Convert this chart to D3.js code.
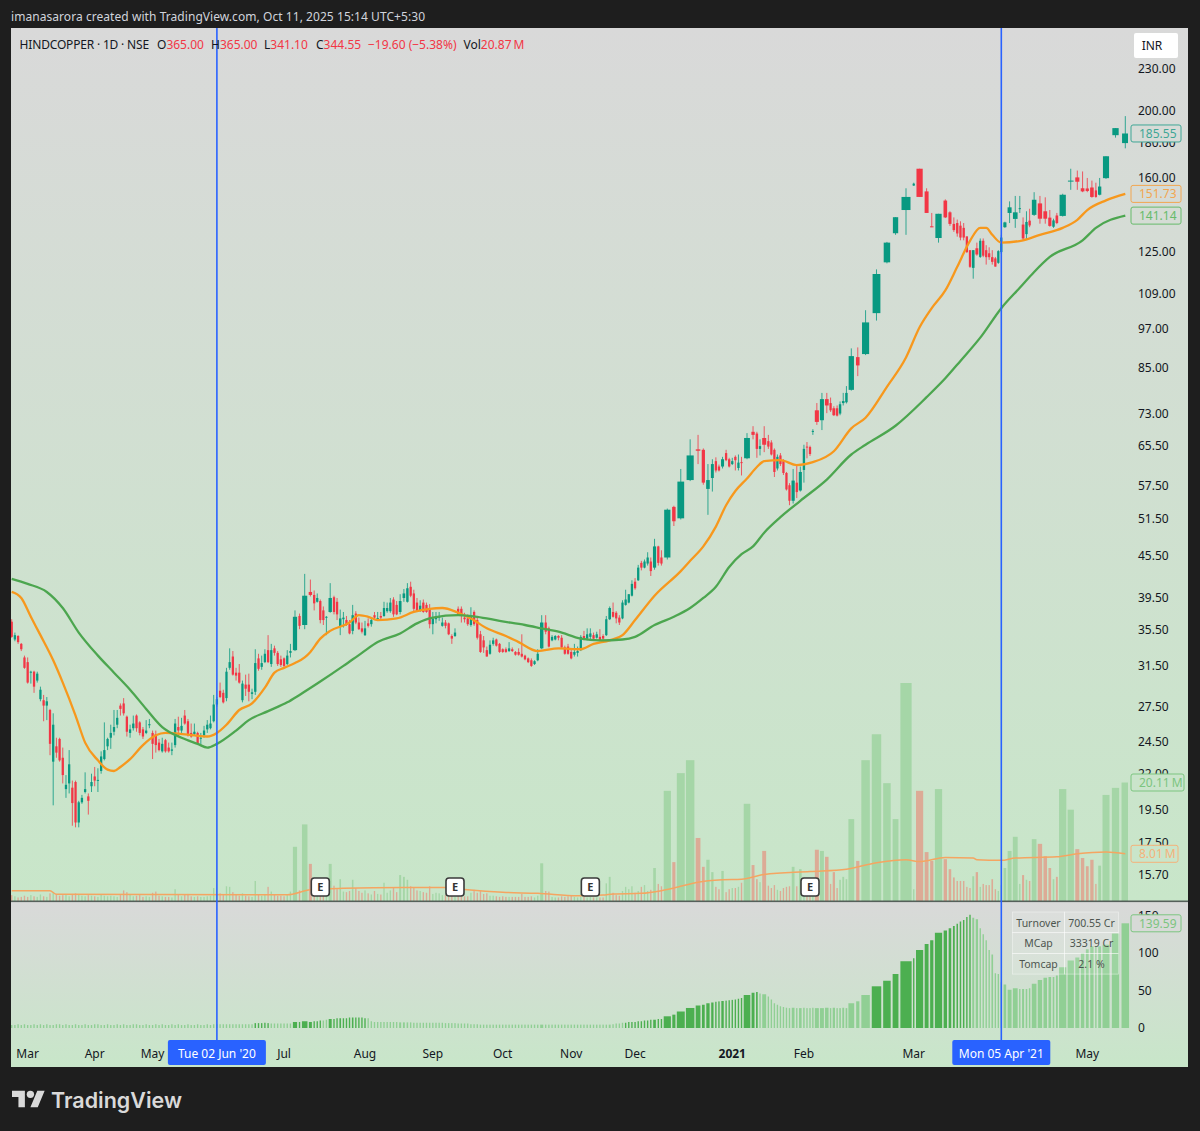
<!DOCTYPE html>
<html><head><meta charset="utf-8">
<script src="https://cdn.jsdelivr.net/npm/d3@7/dist/d3.min.js"></script>
<style>html,body{margin:0;padding:0;background:#1e1e1e}svg{display:block}text{font-family:"Noto Sans",sans-serif}</style>
</head><body><svg id="c" width="1200" height="1131"></svg>
<script>
// Daily candles [open, high, low, close]
const ohlcMarApr2020 = [[36.5,36.8,34.6,34.7],[34.4,35.2,34.2,34.9],[34.8,34.9,33.9,34.1],[33.9,34,33.1,33.3],[32.4,32.6,31.2,31.3],[31.9,32.4,29.7,29.8],[30.8,31,29.7,30.9],[30.9,31,28.8,29.4],[30,30.9,29.8,30.7],[28.2,29.4,28,29.1],
[28.1,28.6,26.2,27.6],[27.6,28.4,26.3,28],[27.2,27.3,23.4,24.3],[22.9,26.9,19.8,25.9],[24.1,24.8,23.2,23.6],[24.7,24.8,22.9,23],[23.2,24,21.3,21.9],[20.9,21.9,20.3,21.2],[21.3,23.8,20.6,22.7],[21,21.5,18.5,19.95],
[21.4,21.5,18.4,18.7],[18.7,20.1,18.4,20],[20,20.5,19.9,20.3],[20.7,22.1,20.6,20.9],[20.4,20.6,19.2,20.1],[21.1,22,20.7,21.4],[21.8,22.5,21.1,21.5],[21.5,22.4,20.7,21.55],[22.2,23.7,22,23.3],[23.1,26.1,23,23.8],
[24.1,24.8,23.8,24.7],[24.8,25.9,23.9,25.2],[25.3,27.2,25,25.7],[25.9,27.2,25.6,26.5],[27.6,27.8,26.7,27.3],[27.8,28.3,26.7,26.9],[26.6,26.7,24.9,25.3],[25.2,25.9,24.8,25.5],[25.6,26.7,25.4,26],[26.7,26.8,25.3,25.6]];
const ohlcMayJul2020 = [[26.1,26.2,25,25.2],[25.5,25.7,24.7,24.9],[25.2,26.3,25.1,25.4],[25.85,26.4,25.6,25.95],[25.2,25.4,23.1,24.3],[25.1,25.4,23.6,24.2],[24.4,24.7,23.7,23.8],[23.7,24.8,23.6,24.3],[24.6,24.7,23.6,23.7],[24,24.4,23.6,23.7],
[23.75,24.4,23.4,23.85],[24.2,26.4,24,26],[25.7,26.6,25,25.4],[25.4,26.5,25.2,25.8],[26.7,27.2,25.9,26],[26.2,26.4,24.9,25],[25.2,26,24.8,24.9],[25.1,26,25,25.3],[25.2,25.3,24.25,24.3],[24.75,25.2,24.2,24.8],
[25,25.8,24.8,25.4],[25.5,26.3,25.2,25.9],[25.6,26.7,25.5,26],[26.2,28.6,26.1,27.7],[27.7,28.4,27.5,28.2],[29,29.8,28.3,28.4],[28.8,29.1,27.8,27.9],[28.3,31.3,28,30.9],[31.3,33.4,31.1,31.9],[32.5,33.1,30.5,30.6],
[30.8,31.3,30,30.5],[30.8,31.7,29.7,29.8],[28.1,30,27.9,29.7],[29.6,30.6,28.5,29.2],[29.6,30.7,28,28.9],[28.7,29.2,28.2,28.85],[28.9,33.3,28.6,31.8],[32.3,32.8,31,31.2],[31.4,32.6,31.1,31.8],[31.9,33.3,31.8,32.8],
[33.2,34.9,31.8,31.9],[31.7,33.9,31.4,33.2],[33.4,33.7,32.6,32.9],[32.9,33.1,31.5,31.7],[32.2,32.6,31.4,31.6],[32.3,32.4,31.3,31.5],[31.7,33.2,31.6,32.6],[32.9,33.9,32.4,33.1],[33.2,37.9,33.1,37.1],[37.2,37.5,35.6,36]];
const ohlcJulSep2020 = [[36.1,42.8,35.6,39.8],[40.3,42,39.7,39.9],[39.9,40.5,37.9,38.8],[39,40.1,38.9,39.5],[39.1,39.3,36.3,36.7],[37.9,38.4,36.1,36.7],[37,37.2,34.9,37.1],[37.7,41.5,37.6,39.5],[39.6,39.8,37.4,37.7],[39,39.5,36.7,37.4],
[35.9,38,34.9,36.9],[36.8,37.7,35.8,37],[36.7,37.2,36,36.1],[36.2,36.7,35,35.1],[35.4,38.6,35,37.3],[37.5,37.8,36.2,36.4],[36.4,37,35.5,35.6],[35.7,36.4,35.1,35.3],[34.9,36.6,34.8,35.7],[36.3,36.9,35.8,36],
[36.2,37,35.9,36.7],[37.3,37.7,36.7,37],[36.9,37.7,36.6,36.95],[37.2,37.7,36.7,37],[37.2,39,37.1,38.2],[37.8,38.9,37.6,38.2],[37.8,39.5,37.6,38.9],[39.3,39.6,37.1,37.4],[38.6,39.1,37.3,37.4],[37.7,40,37.4,39.1],
[39.5,40.7,39,40.1],[39,41.5,38.9,40.8],[41,41.7,39.6,39.8],[40.1,40.6,37.7,38.1],[38.9,39.5,37.7,37.8],[37.9,39.2,37.7,38.5],[38.9,39.3,37.6,37.7],[38.6,38.9,37.6,37.7],[38.2,38.7,35.7,36.2],[36.2,37.7,35,36.9]];
const ohlcSepNov2020 = [[36.8,37.7,36.3,37],[37,37.7,36.6,37.2],[36,37,35.9,36.4],[36.4,36.7,35.7,36],[36.3,36.4,34.9,35],[34.8,35,33.9,34.5],[34.8,35.7,34.7,35.2],[38.1,38.4,37.3,37.4],[38.1,38.4,36.4,37.3],[37,37.6,36.4,36.8],
[36.9,37.4,36,36.2],[36.1,38.3,35.9,37.3],[37.7,37.9,36,36.2],[36.7,37,34.4,34.6],[35,35.4,32.9,33],[34.3,34.8,32.9,33.5],[33.2,33.6,32.5,32.5],[32.8,34.3,32.7,33.8],[33.9,34.6,33.7,34.3],[34.4,34.5,33.6,33.7],
[33.9,34,32.9,33],[33.3,33.4,32.9,33],[33.3,33.5,32.9,33],[33.1,34.1,33,33.4],[33.3,33.5,33,33.1],[33,33.1,32.6,32.7],[33,33.4,32.6,32.7],[32.8,35,32.4,32.5],[32.6,32.7,32.1,32.2],[32.3,32.4,31.8,31.9],
[32.1,32.3,31.4,31.5],[31.7,32.1,31.6,32],[32.1,33.3,32,32.8],[33.4,37.3,33.3,36.4],[36.4,37.3,35,35.3],[35.7,35.9,33.5,33.6],[34.3,34.9,34.2,34.7],[34.4,34.9,34.3,34.8],[34.8,34.9,34.3,34.6],[34.6,34.9,33.4,33.5],
[33.5,33.7,32.7,32.8],[33.6,33.9,32.7,32.8],[33,33.4,32.2,32.3],[32.7,33.9,32.5,33],[32.9,33.6,32.5,33.1],[33.2,34.9,33.1,34.7],[34.8,35.4,34.3,34.4],[34.5,35.7,34.3,35],[34.7,35.7,34.4,35.1],[34.9,35.2,34.3,34.5]];
const ohlcNovJan2021 = [[34.6,35.3,34.5,35],[34.7,35.6,34.2,34.3],[34.8,35,34.4,34.5],[34.9,37.2,34.8,36.8],[36.8,38.4,36.7,38.2],[37.7,38.9,37,37.1],[37.6,37.8,36.3,36.9],[37,37.3,36.1,36.4],[36.9,39.2,36.8,38.9],[38.6,40.6,38.5,39.3],
[38.9,40,38.8,40],[39.8,41.9,39.7,41.4],[41.7,42.2,40.6,40.8],[41.9,44.1,41.8,43.7],[44.4,44.7,43.3,43.7],[43.7,44.9,43.6,44.6],[44.3,46,44,45.2],[44.6,45.2,42.5,43.2],[43.7,48.1,43.4,46.9],[46.9,47,44,44.4],
[45.2,46.3,44,44.3],[45.2,53.2,44.9,53],[53.5,53.7,50.2,51],[51.5,60.7,51.3,58.2],[58.5,67,58.3,63.5],[64.8,68,61.7,64.5],[64.7,65,57.6,58],[56.8,61.7,52.1,58.5],[58.9,62.7,56.3,61.7],[62.3,63.1,60,60.4],
[61.2,61.6,60.2,60.4],[61.2,63.2,60.8,62.7],[64,64.7,62.3,62.5],[62.7,63,61,61.2],[61.7,63,61.5,62.3],[63.2,63.5,60.4,62.5],[60.9,63.7,60.4,62],[62.1,63.2,59.4,62],[62.9,68.4,62.7,67.3],[68.7,70,67,68],
[68.3,68.7,63,64.9],[64.9,67,63.5,65.5],[67.3,70,64.2,65.8],[66.6,68,64.9,65.4],[66.3,66.8,63.5,63.7],[64.7,65,59.1,60.1],[60.8,63.7,60.4,63.2],[63.5,64,61.3,61.7],[62.3,62.7,59.5,59.9],[59.9,60.1,56.5,56.7]];
const ohlcFebMar2021 = [[57.5,57.9,53.8,54.6],[54.6,60.7,54.1,58.4],[58,61.5,55.1,56.2],[56.5,61.2,56.3,60.1],[60.5,65.8,58,64.9],[65.4,66.4,62.9,65.2],[65.3,65.6,63.4,63.8],[68.8,69.3,68,68.9],[73.8,75.6,70.3,71],[71.4,78.2,69.1,76.6],
[76.6,78.2,73.1,75],[75.6,77,73.4,73.8],[74.3,74.8,72.4,72.6],[74.3,75,72.3,72.5],[73,76,72.6,75.3],[75.6,78.2,75,76.1],[75.8,80,75.5,78.2],[79,90.7,78.8,88.4],[88.1,91,82.7,85.7],[89,103,88.7,98.9],
[102,118,99.5,116.2],[120.8,129.3,120.4,129],[133.1,140.4,132.4,140.4],[143.8,154.6,132.4,150.2],[156,157.5,155.8,157],[165,165,150.2,150.2],[153,154.6,142.4,142.4],[136.2,142.4,135.8,136],[131,142,129,142],[148.4,149,140,140.3],
[142.7,143.2,136.4,137.3],[137.3,140.3,133.7,134.5],[137.7,139.3,131.6,133],[136.5,138.5,130,131.2],[135.5,137.7,130,131.2],[131.7,131.7,124.6,125],[125.8,125.8,118.6,119],[118.6,125.8,114.4,125.8],[126.6,129,123.5,124],[123,130.8,122.6,129.8]];
const ohlcMarMay2021 = [[129.8,130.8,122.9,123.5],[125.8,127.9,119.9,122.9],[124.5,127,121.8,122.9],[122.9,125.8,119.9,121],[122.4,123,119.1,119.1],[120.6,125.8,120.2,125.4],[125,132.4,124.2,131.2],[135.8,138.3,135.5,138],[142.4,148,137.7,145.1],[139.6,150.7,135.5,142.7],
[144.4,150.7,142.4,144.7],[137,140.3,129.8,130.8],[132.7,143.2,130.6,138.2],[138.8,144.4,135.8,136.6],[141.5,152.6,141,148.8],[147,150.7,137.4,139.7],[143.2,150,137.4,139.7],[140.2,143.8,136,136.4],[136,139.7,135.5,138.9],[141.2,142.4,137.2,137.7],
[141,151.8,140.7,151.3],[158.3,165,153.8,158.6],[160.3,164,153.8,158],[154.6,163.5,152.6,153],[154.5,160,152.6,153.2],[155,158.6,149.8,150.2],[153.5,157.5,149.8,150.2],[151.3,160,151,155.5],[159.9,172,159.5,172],[184.5,188.9,183,188.9],
[179.7,196.6,176.6,185.55]];

// Volume per bar, millions
const volumes = [1,.8,.6,.7,.9,.7,1,.8,.7,1.1,.8,.7,1.3,1.5,1.2,.9,1,1.1,.8,1.2,1.3,1.2,.9,.8,1,.9,.8,.7,1.1,.9,.8,.9,.8,.7,1,1.8,1.5,1.1,.8,.9,
1,.7,.8,.7,1.4,1.6,.9,.8,.7,.7,.6,2,1,.8,1.1,1.2,.8,.7,.8,.7,.7,.8,.9,2.2,
1,1.3,1,2.5,2.4,1.5,1.1,.9,1.3,.9,.8,.7,3.4,1.1,.9,1.2,2.4,1.6,1.1,.9,.9,.8,1,1.6,
9.2,1.8,13,6.3,1.8,1.3,2.1,1.6,2,6.3,2.6,2,3.7,1.6,1.5,1.7,3.6,2.2,1.7,1.4,1.8,1.3,1.1,1.7,1.2,1.1,3.1,1.4,1.8,2.2,1.5,4.4,4.1,3.6,2.5,2.2,1.8,1.7,1.5,1.4,2.5,1.2,
1.4,1.3,1,1,.9,.9,.7,1.1,.9,.8,.8,1.4,1.9,1.4,1.7,1.2,1.3,.9,.9,.8,.7,.8,.7,.7,.7,.7,.7,1.2,.7,.7,.8,.6,.9,6.4,1.7,1.6,.7,.6,.6,.8,.7,.8,1,.7,.6,1.2,.7,.6,.7,.6,.6,.6,.6,3,4.1,1.4,1,.9,
1.7,2.4,2,2.5,1.4,1.7,2.4,2.7,1.7,1.9,5.6,2.9,2.5,18.7,6.6,21.7,23.9,10.7,5.8,7,4.9,2.4,2,5.1,1.5,2,2.2,2.2,2.4,3.1,16.5,6.1,3.7,3.2,8.5,2.6,2.2,2.7,1.9,1.7,2.2,2.4,2.5,5.8,2.5,5.4,3.4,2,2,2.4,
8.7,8.5,7.5,2.9,4.9,2.2,3.6,4.1,3.7,13.9,6.8,23.9,28.3,20,13.9,37,2,18.7,8.3,6.8,19,7.1,5.4,4,3.4,3.4,3.4,2.4,2.2,4.2,4.9,2.4,2.9,2.7,2.7,3.7,2,1.7,2.7,5.6,8.5,10.9,2.9,4.4,3.6,3.4,10.5,9.7,7.6,5.6,3.7,4.1,19,15.5,8.8,7.3,5.9,7,2.9,6,18,19.2,20.11];

// Lower-pane oscillator per bar, ten values to a row
const oscillator = [
4,4,5,4,5,4,4,5,4,5, 4,5,4,4,5,5,4,5,4,4, 5,4,4,5,4,4,5,5,4,4, 5,4,4,5,4,5,4,4,5,5,
4,4,5,4,4,5,4,5,4,4, 5,4,5,4,4,5,4,4,5,4, 4,5,4,5,5,5,5,5,5,5,
5,5,5,5,5,5,6.5,6.5,6.5,7, 6.5,6,6,6,6,6,6,6,8,8, 9,8,9,9,10,10,11,12,12,13, 13,13,13,14,14,14,14,14,13,13,
9,8,8,8,8,8,8,8,8,7.5, 7.5,7.5,7.5,7,7,7,7,7,7,7, 7,7,7,6.5,6.5,6.5,6.5,6,6,6, 6,5,5,5,4.5,4.5,4.5,4.5,4.5,4.5,
4.5,4.5,4.5,4.5,4.5,4.5,4.5,4.5,4.5,4.5, 4.5,4.5,4.5,4.5,4.5,4.5,4.5,4.5,4.5,4.5, 4.5,4.5,4.5,4.5,4.5,4.5,4.5,4.5,4.5,4.5, 4.5,4.5,4.5,4.5,4.5,5,6,6,7,7,
8,8,8,9,9,10,10,11,11,12, 12,15.6,17.8,22,26.7,30,31,33,34,35, 35.5,36,36.5,37,37.5,38,39,40,44,47, 48,46,45,42,38,33,31,29,28,27,
26.5,27,26.5,26.5,27,26.5,26.5,27,26.5,26.5, 27,26.5,27,26.5,26.5,27,26.5,33,35.6,44, 55.6,63,72,89,93,104,112,117,127,130, 133,136,139,142,144,148,151,147,145,133,
125,117,104,98,73,72,61,58,51,53, 52,52,52,53,59,64,67,68,68,70, 81,90,94,100,105,109,109,109,111,126, 139.59];
const oscStrongRuns = [[77,81],[89,95],[98,109],[190,221],[251,267]];

// Moving averages sampled at 1-based bar numbers
const emaFastBars = [1,4,7,10,14,17,21,24,28,31,33,35,38,42,46,49,53,58,62,65,68,72,76,80,83,86,89,91,92,95,98,104,107,110,113,119,124,129,133,138,142,147,153,157,163,169,176,180,185,189,193,199,204,205,207,210,213,216,219,221,223,228,233,238,243,248,250,252,254,256,258,260,263,267,270,272,274,277,282,286,291,293,295,299,301];
const emaFastVals = [40.3,39.5,37.1,34.9,32.1,29.8,26.7,24.4,23,22.3,22.2,22.5,23.1,24.2,25,25.2,25.15,25,24.9,25.2,25.9,27.2,27.8,29.3,30.8,31.3,31.8,32.4,33,34.5,35.4,36.4,37.3,37.1,36.7,36.9,37.7,38.1,38.2,37.6,36.9,35.7,34.8,34.1,33.1,33.4,33.3,33.9,34.3,34.9,36.7,39.8,43.2,44.7,46.9,50.1,53.8,56.4,58.8,61.1,62.3,62.5,61.5,62.1,64.4,69.5,72,79.8,88,97.3,103.7,110,119,129.8,135.5,135.5,132.4,129,130,132.4,135.5,139.2,143.8,148.5,151.73];
const emaSlowBars = [1,6,12,17,22,28,33,38,43,48,54,59,62,65,71,75,81,87,90,95,102,108,113,120,125,130,138,144,151,159,164,169,176,182,189,193,199,203,205,207,210,214,218,220,223,228,234,241,248,250,253,257,260,264,270,277,281,285,288,294,297,301];
const emaSlowVals = [42.1,41.4,40.3,38.2,35.2,32.6,30.8,29.1,27.3,25.7,24.8,24.3,24,24.3,25.4,26.3,27.1,27.9,28.6,29.9,31.5,32.9,34.1,35.1,36.3,37,37.3,37.1,36.6,36.1,35.7,35.3,34.5,34.3,34.4,34.7,36.1,37.1,38.2,39.5,41,43.8,45.7,46.9,49.1,51.7,54.6,58.6,63.7,65.8,70.1,77.1,82.1,87,94,103.7,111,117,123,130,135.5,141.14];
const volMaBars = [1,13,15,87,92,102,121,134,141,152,163,175,183,186,195,201,203,206,212,218,223,237,247,251,254,256,260,268,269,277,280,290,293,299,301];
const volMaVals = [1.75,1.75,1.13,1.05,1.9,2.15,2.3,2.3,1.9,1.47,1.3,.9,1,1.2,1.3,1.75,2.2,3.2,3.6,3.7,4.5,5,5.4,6.5,7,6.7,7.4,7.3,7,6.9,7.3,7.5,8,8.3,8.01];

// Axes and annotations
const priceTicks = [230,200,180,160,125,109,97,85,73,65.5,57.5,51.5,45.5,39.5,35.5,31.5,27.5,24.5,22,19.5,17.5,15.7];
const oscTicks = [150,100,50,0];
const timeTickBars = [6,27,45,86,109,130,152,173,193,215,235,255,295];
const timeTickLabels = ["Mar","Apr","May","Jul","Aug","Sep","Oct","Nov","Dec","2021","Feb","Mar","May"];
const cursorBars = [65,277];
const cursorLabels = ["Tue 02 Jun '20","Mon 05 Apr '21"];
const earningsBars = [95,137,179,237];
const tableRows = [["Turnover","700.55 Cr"],["MCap","33319 Cr"],["Tomcap","2.1 %"]];

const candles = [].concat(ohlcMarApr2020,ohlcMayJul2020,ohlcJulSep2020,ohlcSepNov2020,ohlcNovJan2021,ohlcFebMar2021,ohlcMarMay2021);
const GREEN="#089981", RED="#f23645";
const L=11,R=1188,PR=1128,T=28,PANE=901,B=1067;
const svg=d3.select("#c");
const defs=svg.append("defs");
function grad(id){const g=defs.append("linearGradient").attr("id",id).attr("x1",0).attr("x2",0).attr("y1",0).attr("y2",1);
 g.append("stop").attr("offset",0).attr("stop-color","#d9d9d9");g.append("stop").attr("offset",1).attr("stop-color","#c8e6c9");}
grad("g1");grad("g2");
defs.append("clipPath").attr("id","clipP").append("rect").attr("x",L).attr("y",T).attr("width",PR-L).attr("height",PANE-T);
svg.append("rect").attr("width",1200).attr("height",1131).attr("fill","#1e1e1e");
svg.append("rect").attr("x",L).attr("y",T).attr("width",R-L).attr("height",PANE-T).attr("fill","url(#g1)");
svg.append("rect").attr("x",L).attr("y",PANE).attr("width",R-L).attr("height",B-PANE).attr("fill","url(#g2)");

const y=d3.scaleLog().domain([15.7,230]).range([875,69]);
const yVol=d3.scaleLinear().domain([0,37]).range([PANE,683]);
const yOsc=d3.scaleLinear().domain([0,150]).range([1028,915.5]);

// volume-weighted time axis: wider slots for heavier bars
const volW=d=>Math.max(1.36,0.95*Math.sqrt(yVol(0)-yVol(d))-2.8);
const slots=volumes.map(v=>volW(v)+2);
let run=0;const cum=slots.map(s=>{const c=run+s/2;run+=s;return c;});
const anchorBars=[1,27,64,91,109,137,164,184,202,219,237,248,254,267,277,291,299,301];
const xCum=d3.scaleLinear().domain(anchorBars.map(b=>cum[b-1])).range([11.7,94.7,213.7,304.7,365,455,541.7,606.3,667.3,747,810,851.3,906,970,1001.3,1062.7,1106,1125.3]);
const xBar=b=>xCum(cum[b-1]);
const bars=candles.map((c,i)=>({o:c[0],h:c[1],l:c[2],c:c[3],v:volumes[i],os:oscillator[i],b:i+1,up:c[3]>=c[0]}));

const plot=svg.append("g").attr("clip-path","url(#clipP)");
// volume
plot.append("g").selectAll("rect").data(bars).join("rect")
 .attr("x",d=>xBar(d.b)-volW(d.v)/2).attr("width",d=>volW(d.v))
 .attr("y",d=>yVol(d.v)).attr("height",d=>yVol(0)-yVol(d.v))
 .attr("fill",d=>d.up?"#a5d6a7":"#dcab96");
const line=(yy)=>d3.line().x(d=>xBar(d[0])).y(d=>yy(d[1])).curve(d3.curveMonotoneX);
plot.append("path").attr("d",line(yVol)(d3.zip(volMaBars,volMaVals))).attr("fill","none").attr("stroke","#f5a561").attr("stroke-width",1.5);

// candles
const cg=plot.append("g");
cg.selectAll("line").data(bars).join("line")
 .attr("x1",d=>xBar(d.b)).attr("x2",d=>xBar(d.b)).attr("y1",d=>y(d.h)).attr("y2",d=>y(d.l))
 .attr("stroke",d=>d.up?GREEN:RED).attr("stroke-width",1).attr("stroke-opacity",.8);
cg.selectAll("rect").data(bars).join("rect")
 .attr("x",d=>xBar(d.b)-slots[d.b-1]*.34).attr("width",d=>slots[d.b-1]*.68)
 .attr("y",d=>y(Math.max(d.o,d.c))).attr("height",d=>Math.max(1,Math.abs(y(d.o)-y(d.c))))
 .attr("fill",d=>d.up?GREEN:RED);
// averages
plot.append("path").attr("d",line(y)(d3.zip(emaFastBars,emaFastVals))).attr("fill","none").attr("stroke","#f7981d").attr("stroke-width",2.3);
plot.append("path").attr("d",line(y)(d3.zip(emaSlowBars,emaSlowVals))).attr("fill","none").attr("stroke","#4ca64f").attr("stroke-width",2.3);

// oscillator
const strong=b=>oscStrongRuns.some(r=>b>=r[0]&&b<=r[1]);
svg.append("g").selectAll("rect").data(bars).join("rect")
 .attr("x",d=>xBar(d.b)-volW(d.v)/2).attr("width",d=>volW(d.v))
 .attr("y",d=>yOsc(d.os)).attr("height",d=>yOsc(0)-yOsc(d.os))
 .attr("fill",d=>strong(d.b)?"#4caf50":"#90cf94");

svg.append("rect").attr("x",L).attr("y",PANE-.5).attr("width",R-L).attr("height",1.6).attr("fill","#55605a");

// Cursor lines
svg.append("g").selectAll("line").data(cursorBars).join("line")
 .attr("x1",b=>xBar(b)).attr("x2",b=>xBar(b)).attr("y1",T).attr("y2",1040).attr("stroke","#2962ff").attr("stroke-width",1.6);

// Price axis
const font="12px";
const ax=svg.append("g").attr("transform",`translate(1138,0)`).call(d3.axisRight(y).tickValues(priceTicks).tickSize(0).tickPadding(0).tickFormat(d=>d.toFixed(2)));
ax.select(".domain").remove();
ax.selectAll("text").attr("font-size",font).attr("fill","#131722").style("font-family",'"Noto Sans",sans-serif');
const ax2=svg.append("g").attr("transform",`translate(1138,0)`).call(d3.axisRight(yOsc).tickValues(oscTicks).tickSize(0).tickPadding(0));
ax2.select(".domain").remove();
ax2.selectAll("text").attr("font-size",font).attr("fill","#131722").style("font-family",'"Noto Sans",sans-serif');

// Time axis
svg.append("g").selectAll("text").data(timeTickBars).join("text")
 .attr("x",b=>xBar(b)).attr("y",1058).attr("text-anchor","middle").attr("font-size",font).attr("fill","#131722")
 .attr("font-weight",(b,i)=>timeTickLabels[i]==="2021"?700:400).text((b,i)=>timeTickLabels[i]);
cursorBars.forEach((b,i)=>{
 const cx=xBar(b);
 svg.append("rect").attr("x",cx-49).attr("y",1040).attr("width",98).attr("height",25).attr("rx",2).attr("fill","#2962ff");
 svg.append("text").attr("x",cx).attr("y",1058).attr("text-anchor","middle").attr("font-size",font).attr("fill","#fff").text(cursorLabels[i]);
});

// Earnings markers
const eg=svg.append("g").selectAll("g").data(earningsBars).join("g").attr("transform",b=>`translate(${xBar(b)},887)`);
eg.append("rect").attr("x",-9).attr("y",-9).attr("width",18).attr("height",18).attr("rx",3).attr("fill","#fff").attr("stroke","#3a3a3a").attr("stroke-width",1.6);
eg.append("text").attr("text-anchor","middle").attr("y",4).attr("font-size","11px").attr("font-weight",700).attr("fill","#333").text("E");

// Value tags
const bgAt=d3.interpolateRgb("#d9d9d9","#c8e6c9");
function tag(txt,yp,col,x0,w,bgT){
 svg.append("rect").attr("x",x0).attr("y",yp-8.5).attr("width",w).attr("height",17).attr("rx",2).attr("fill",bgAt(bgT)).attr("stroke",col).attr("stroke-width",1);
 svg.append("text").attr("x",x0+8).attr("y",yp+4.5).attr("font-size",font).attr("fill",col).text(txt);
}
const last=bars[bars.length-1];
tag(last.c.toFixed(2),y(last.c),"#3fa796",1131,50,.12);
tag(emaFastVals.at(-1).toFixed(2),y(emaFastVals.at(-1)),"#f2a650",1131,50,.19);
tag(emaSlowVals.at(-1).toFixed(2),y(emaSlowVals.at(-1)),"#66bb6a",1131,50,.22);
tag("20.11\u2009M",yVol(20.11),"#7cc580",1131,53,.86);
tag("8.01\u2009M",yVol(8.01),"#f5b27a",1131,47,.95);
tag("139.59",yOsc(139.59),"#7cc580",1131,50,.1);

// Info table
const tw=[52,54],tx=1012.5,ty=912,rh=20.7;
const tb=svg.append("g");
tableRows.forEach((r,i)=>{
 tb.append("rect").attr("x",tx).attr("y",ty+i*rh).attr("width",tw[0]).attr("height",rh).attr("fill","rgba(255,255,255,.12)").attr("stroke","rgba(255,255,255,.55)").attr("stroke-width",.7);
 tb.append("rect").attr("x",tx+tw[0]).attr("y",ty+i*rh).attr("width",tw[1]).attr("height",rh).attr("fill","rgba(255,255,255,.12)").attr("stroke","rgba(255,255,255,.55)").attr("stroke-width",.7);
 tb.append("text").attr("x",tx+tw[0]/2).attr("y",ty+i*rh+14.5).attr("text-anchor","middle").attr("font-size","10.5px").attr("fill","#4d554f").text(r[0]);
 tb.append("text").attr("x",tx+tw[0]+tw[1]/2).attr("y",ty+i*rh+14.5).attr("text-anchor","middle").attr("font-size","10.5px").attr("fill","#4d554f").text(r[1]);
});

// Legend
const leg=[[19.6,"HINDCOPPER · 1D · NSE","",129.5],[157,"O","365.00"],[211,"H","365.00"],[264,"L","341.10"],[316,"C","344.55"],[368,"","−19.60 (−5.38%)"],[463.5,"Vol","20.87\u2009M"]];
leg.forEach(l=>{const t=svg.append("text").attr("x",l[0]).attr("y",49).attr("font-size",font).attr("fill","#131722");
 if(l[3])t.attr("textLength",l[3]);
 t.append("tspan").text(l[1]);t.append("tspan").attr("fill",RED).text(l[2]);});
svg.append("rect").attr("x",1134).attr("y",33).attr("width",44).attr("height",25).attr("rx",2).attr("fill","#fff");
svg.append("text").attr("x",1152).attr("y",50).attr("text-anchor","middle").attr("font-size",font).attr("fill","#131722").text("INR");

// Header & brand
svg.append("text").attr("x",11).attr("y",21).attr("font-size",font).attr("textLength",414).attr("fill","#d1d4dc").text("imanasarora created with TradingView.com, Oct 11, 2025 15:14 UTC+5:30");
const lg=svg.append("g").attr("transform","translate(12,1087) scale(.92)").attr("fill","#d9d9d9");
lg.append("path").attr("d","M14 22H7V11H0V4h14v18zM28 22h-8l7.5-18h8L28 22z");
lg.append("circle").attr("cx",20).attr("cy",8).attr("r",4);
svg.append("text").attr("x",51).attr("y",1108).attr("font-size","21.5px").attr("font-weight",600).attr("fill","#d9d9d9").style("font-family","Inter,sans-serif").text("TradingView");
</script></body></html>
